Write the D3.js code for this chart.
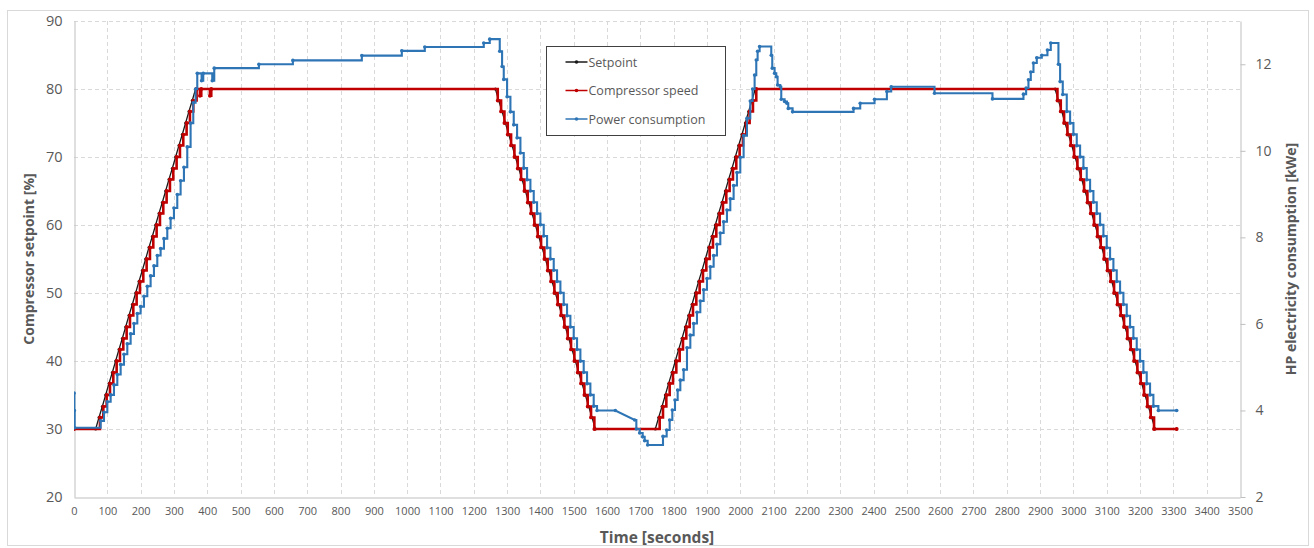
<!DOCTYPE html>
<html>
<head>
<meta charset="utf-8">
<script src="https://cdn.jsdelivr.net/npm/d3@7"></script>
<style>
  body { margin: 0; background: #fff; }
  text { font-family: "Open Sans", "Noto Sans", sans-serif; fill: #595959; }
</style>
</head>
<body>
<svg id="chart" width="1314" height="548"></svg>
<script>
// Compressor setpoint [%] : [time s, value]
const setpoint = [
  [0,30],[65,30],[75,31.7],[85,33.3],[95,35],[105,36.7],[115,38.3],[125,40],[135,41.7],[145,43.3],[155,45],[165,46.7],[175,48.3],[185,50],[195,51.7],[205,53.3],[215,55],[225,56.7],[235,58.3],[245,60],[255,61.7],[265,63.3],[275,65],[285,66.7],[295,68.3],[305,70],[315,71.7],[325,73.3],[335,75],[345,76.7],[355,78.3],[365,80],
  [1265,80],[1275,78.3],[1285,76.7],[1295,75],[1305,73.3],[1315,71.7],[1325,70],[1335,68.3],[1345,66.7],[1355,65],[1365,63.3],[1375,61.7],[1385,60],[1395,58.3],[1405,56.7],[1415,55],[1425,53.3],[1435,51.7],[1445,50],[1455,48.3],[1465,46.7],[1475,45],[1485,43.3],[1495,41.7],[1505,40],[1515,38.3],[1525,36.7],[1535,35],[1545,33.3],[1555,31.7],[1565,30],
  [1745,30],[1755,31.7],[1765,33.3],[1775,35],[1785,36.7],[1795,38.3],[1805,40],[1815,41.7],[1825,43.3],[1835,45],[1845,46.7],[1855,48.3],[1865,50],[1875,51.7],[1885,53.3],[1895,55],[1905,56.7],[1915,58.3],[1925,60],[1935,61.7],[1945,63.3],[1955,65],[1965,66.7],[1975,68.3],[1985,70],[1995,71.7],[2005,73.3],[2015,75],[2025,76.7],[2035,78.3],[2045,80],
  [2945,80],[2955,78.3],[2965,76.7],[2975,75],[2985,73.3],[2995,71.7],[3005,70],[3015,68.3],[3025,66.7],[3035,65],[3045,63.3],[3055,61.7],[3065,60],[3075,58.3],[3085,56.7],[3095,55],[3105,53.3],[3115,51.7],[3125,50],[3135,48.3],[3145,46.7],[3155,45],[3165,43.3],[3175,41.7],[3185,40],[3195,38.3],[3205,36.7],[3215,35],[3225,33.3],[3235,31.7],[3245,30],[3310,30]
];

// Measured compressor speed [%] : [time s, value], held until the next sample
const compressorSpeed = [
  [0,30],[78,31.7],[88,33.3],[98,35],[108,36.7],[118,38.3],[128,40],[138,41.7],[148,43.3],[158,45],[168,46.7],[178,48.3],[188,50],[198,51.7],[208,53.3],[218,55],[228,56.7],[238,58.3],[248,60],[258,61.7],[268,63.3],[278,65],[288,66.7],[298,68.3],[308,70],[318,71.7],[328,73.3],[338,75],[348,76.7],[358,78.3],[368,80],
  [378,79],[382,80],[408,79],[412,80],
  [1272,78.3],[1282,76.7],[1292,75],[1302,73.3],[1312,71.7],[1322,70],[1332,68.3],[1342,66.7],[1352,65],[1362,63.3],[1372,61.7],[1382,60],[1392,58.3],[1402,56.7],[1412,55],[1422,53.3],[1432,51.7],[1442,50],[1452,48.3],[1462,46.7],[1472,45],[1482,43.3],[1492,41.7],[1502,40],[1512,38.3],[1522,36.7],[1532,35],[1542,33.3],[1552,31.7],[1562,30],
  [1758,31.7],[1768,33.3],[1778,35],[1788,36.7],[1798,38.3],[1808,40],[1818,41.7],[1828,43.3],[1838,45],[1848,46.7],[1858,48.3],[1868,50],[1878,51.7],[1888,53.3],[1898,55],[1908,56.7],[1918,58.3],[1928,60],[1938,61.7],[1948,63.3],[1958,65],[1968,66.7],[1978,68.3],[1988,70],[1998,71.7],[2008,73.3],[2018,75],[2028,76.7],[2038,78.3],[2048,80],
  [2952,78.3],[2962,76.7],[2972,75],[2982,73.3],[2992,71.7],[3002,70],[3012,68.3],[3022,66.7],[3032,65],[3042,63.3],[3052,61.7],[3062,60],[3072,58.3],[3082,56.7],[3092,55],[3102,53.3],[3112,51.7],[3122,50],[3132,48.3],[3142,46.7],[3152,45],[3162,43.3],[3172,41.7],[3182,40],[3192,38.3],[3202,36.7],[3212,35],[3222,33.3],[3232,31.7],[3242,30],[3310,30]
];

// HP electricity consumption [kWe] : [time s, value], held until the next sample
const powerConsumption = [
  [0,4.4],[1,4.0],[2,3.6],
  [80,3.76],[90,3.96],[100,4.2],[110,4.36],[120,4.59],[130,4.83],[140,5.06],[150,5.3],[160,5.54],[170,5.77],[180,6.01],[190,6.24],[200,6.4],[210,6.64],[220,6.87],[230,7.11],[240,7.34],[250,7.58],[260,7.74],[270,7.97],[280,8.21],[290,8.44],[300,8.68],[310,8.99],[320,9.31],[330,9.62],[340,10.09],[350,10.64],[358,11.11],[365,11.43],
  [370,11.79],[383,11.62],[388,11.79],[415,11.62],[421,11.91],[555,12.0],[657,12.09],[864,12.2],[984,12.31],[1053,12.4],[1230,12.49],[1248,12.58],
  [1278,12.3],[1285,11.95],[1290,11.65],[1300,11.25],[1310,10.9],[1320,10.6],[1330,10.3],[1340,9.95],[1350,9.6],[1360,9.33],[1370,9.07],[1380,8.81],[1390,8.55],[1400,8.29],[1410,8.03],[1420,7.76],[1430,7.5],[1440,7.24],[1450,6.98],[1460,6.72],[1470,6.45],[1480,6.19],[1490,5.93],[1500,5.67],[1510,5.41],[1520,5.14],[1530,4.88],[1540,4.62],[1550,4.36],[1560,4.1],[1570,4.0],[1625,4.0],
  [1683,3.78],[1688,3.57],[1698,3.48],[1707,3.39],[1713,3.3],[1722,3.2],
  [1768,3.4],[1779,3.55],[1788,3.78],[1796,4.01],[1804,4.24],[1812,4.47],[1820,4.7],[1830,4.94],[1840,5.45],[1850,5.74],[1860,6.01],[1870,6.27],[1880,6.53],[1890,6.79],[1900,7.05],[1910,7.32],[1920,7.58],[1930,7.84],[1940,8.1],[1950,8.36],[1960,8.63],[1970,8.89],[1980,9.2],[1990,9.5],[2000,9.85],[2010,10.35],[2020,10.75],[2030,11.15],[2037,11.43],[2043,11.75],[2048,12.1],[2052,12.3],[2058,12.41],
  [2093,12.21],[2096,11.91],[2103,11.79],[2108,11.71],[2112,11.52],[2120,11.48],[2123,11.19],[2133,11.14],[2140,11.1],[2144,10.98],[2157,10.9],[2340,10.98],[2360,11.1],[2403,11.19],[2440,11.37],[2453,11.48],[2583,11.33],[2757,11.2],
  [2850,11.31],[2858,11.45],[2865,11.64],[2872,11.82],[2880,12.03],[2890,12.15],[2905,12.21],[2922,12.33],[2932,12.49],
  [2955,12.0],[2960,11.6],[2968,11.3],[2980,10.91],[2990,10.64],[3000,10.38],[3010,10.12],[3020,9.86],[3030,9.6],[3040,9.33],[3050,9.07],[3060,8.81],[3070,8.55],[3080,8.29],[3090,8.03],[3100,7.76],[3110,7.5],[3120,7.24],[3130,6.98],[3140,6.72],[3150,6.45],[3160,6.19],[3170,5.93],[3180,5.67],[3190,5.41],[3200,5.14],[3210,4.88],[3220,4.62],[3230,4.36],[3240,4.1],[3255,4.0],[3310,4.0]
];
// logging gaps: the segment starting at these times is drawn as a straight line
const powerGapStarts = [1625];

const xTicks = [0,100,200,300,400,500,600,700,800,900,1000,1100,1200,1300,1400,1500,1600,1700,1800,1900,2000,2100,2200,2300,2400,2500,2600,2700,2800,2900,3000,3100,3200,3300,3400,3500];
const leftTicks = [20,30,40,50,60,70,80,90];
const rightTicks = [2,4,6,8,10,12];

const seriesNames = ["Setpoint", "Compressor speed", "Power consumption"];
const seriesColors = ["#1a1a1a", "#c00000", "#2e75b6"];

const svg = d3.select("#chart");
const plot = { left: 74, right: 1240, top: 21, bottom: 497 };

const x = d3.scaleLinear().domain([0, 3500]).range([plot.left, plot.right]);
const yL = d3.scaleLinear().domain([20, 90]).range([plot.bottom, plot.top]);
const yR = d3.scaleLinear().domain([2, 13]).range([plot.bottom, plot.top]);

// chart frame
svg.append("rect").attr("x", 7.5).attr("y", 10.5).attr("width", 1301).attr("height", 535)
  .attr("fill", "#fff").attr("stroke", "#d9d9d9");

// gridlines
const grid = svg.append("g").attr("stroke", "#d9d9d9").attr("stroke-dasharray", "4,3").attr("stroke-width", 1);
grid.selectAll("line.h").data(leftTicks.filter(d => d > 20)).join("line")
  .attr("x1", plot.left).attr("x2", plot.right)
  .attr("y1", d => Math.round(yL(d)) + 0.5).attr("y2", d => Math.round(yL(d)) + 0.5);
grid.selectAll("line.v").data(xTicks.filter(d => d > 0 && d < 3500)).join("line")
  .attr("y1", plot.top).attr("y2", plot.bottom)
  .attr("x1", d => Math.round(x(d)) + 0.5).attr("x2", d => Math.round(x(d)) + 0.5);

// axes
const xAxis = svg.append("g").attr("transform", `translate(0,${plot.bottom + 0.5})`)
  .call(d3.axisBottom(x).tickValues(xTicks).tickSize(0).tickPadding(10).tickFormat(d3.format("d")));
xAxis.select(".domain").attr("stroke", "#bfbfbf");
xAxis.selectAll("text").attr("font-size", "11px").style("fill", "#595959");

const yAxisL = svg.append("g").attr("transform", `translate(${plot.left + 0.5},0)`)
  .call(d3.axisLeft(yL).tickValues(leftTicks).tickSize(0).tickPadding(12));
yAxisL.select(".domain").attr("stroke", "#bfbfbf");
yAxisL.selectAll("text").attr("font-size", "14.5px").style("fill", "#595959");

const yAxisR = svg.append("g").attr("transform", `translate(${plot.right + 0.5},0)`)
  .call(d3.axisRight(yR).tickValues(rightTicks).tickSize(5).tickSizeOuter(0).tickPadding(10));
yAxisR.select(".domain").attr("stroke", "#bfbfbf");
yAxisR.selectAll(".tick line").attr("stroke", "#bfbfbf");
yAxisR.selectAll("text").attr("font-size", "14px").style("fill", "#595959");

// axis titles
svg.append("text").attr("transform", `translate(34,${(plot.top + plot.bottom) / 2}) rotate(-90)`)
  .attr("text-anchor", "middle").attr("font-size", "14px").attr("font-weight", "bold")
  .text("Compressor setpoint [%]");
svg.append("text").attr("x", (plot.left + plot.right) / 2).attr("y", 543)
  .attr("text-anchor", "middle").attr("font-size", "15.5px").attr("font-weight", "bold")
  .text("Time [seconds]");
svg.append("text").attr("transform", `translate(1296,${(plot.top + plot.bottom) / 2}) rotate(-90)`)
  .attr("text-anchor", "middle").attr("font-size", "14px").attr("font-weight", "bold")
  .text("HP electricity consumption [kWe]");

// clip to plot area
svg.append("clipPath").attr("id", "plotClip").append("rect")
  .attr("x", plot.left).attr("y", plot.top - 4).attr("width", plot.right - plot.left).attr("height", plot.bottom - plot.top + 8);
const marks = svg.append("g").attr("clip-path", "url(#plotClip)");

// step path: holds each value until the next sample, except across logging gaps
function stepPath(data, xs, ys, gapStarts) {
  const p = d3.path();
  data.forEach((d, i) => {
    const px = xs(d[0]), py = ys(d[1]);
    if (i === 0) { p.moveTo(px, py); return; }
    const prev = data[i - 1];
    if (!gapStarts.includes(prev[0])) p.lineTo(px, ys(prev[1]));
    p.lineTo(px, py);
  });
  return p.toString();
}

// setpoint
marks.append("path").datum(setpoint)
  .attr("fill", "none").attr("stroke", seriesColors[0]).attr("stroke-width", 1.3)
  .attr("d", d3.line().x(d => x(d[0])).y(d => yL(d[1])));
marks.append("g").selectAll("circle").data(setpoint).join("circle")
  .attr("cx", d => x(d[0])).attr("cy", d => yL(d[1])).attr("r", 1.5).attr("fill", seriesColors[0]);

// compressor speed
marks.append("path")
  .attr("fill", "none").attr("stroke", seriesColors[1]).attr("stroke-width", 2.6)
  .attr("d", stepPath(compressorSpeed, x, yL, []));
marks.append("g").selectAll("circle").data(compressorSpeed).join("circle")
  .attr("cx", d => x(d[0])).attr("cy", d => yL(d[1])).attr("r", 1.9).attr("fill", seriesColors[1]);

// power consumption (secondary axis)
marks.append("path")
  .attr("fill", "none").attr("stroke", seriesColors[2]).attr("stroke-width", 2.1)
  .attr("d", stepPath(powerConsumption, x, yR, powerGapStarts));
marks.append("g").selectAll("circle").data(powerConsumption).join("circle")
  .attr("cx", d => x(d[0])).attr("cy", d => yR(d[1])).attr("r", 1.8).attr("fill", seriesColors[2]);

// legend
const legend = svg.append("g").attr("transform", "translate(546.5,46.5)");
legend.append("rect").attr("width", 179).attr("height", 89).attr("fill", "#fff")
  .attr("stroke", "#404040").attr("stroke-width", 1);
seriesNames.forEach((name, i) => {
  const ly = 15.5 + i * 28.5;
  legend.append("line").attr("x1", 19).attr("x2", 41).attr("y1", ly).attr("y2", ly)
    .attr("stroke", seriesColors[i]).attr("stroke-width", 1.5);
  legend.append("circle").attr("cx", 30).attr("cy", ly).attr("r", 1.8).attr("fill", seriesColors[i]);
  legend.append("text").attr("x", 42).attr("y", ly + 4.5).attr("font-size", "12.5px").text(name);
});
</script>
</body>
</html>
